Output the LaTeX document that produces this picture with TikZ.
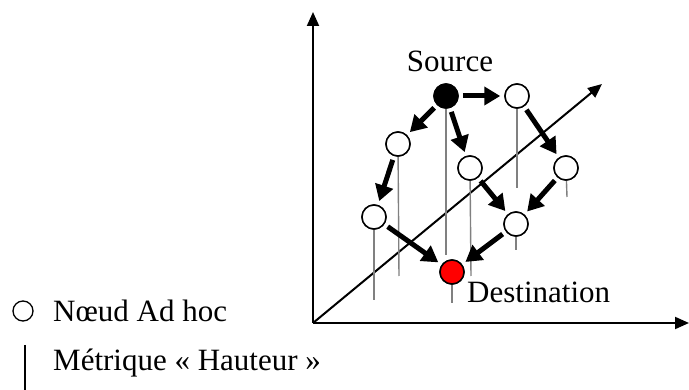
\documentclass[tikz,border=0pt]{standalone}
\usepackage{fontspec}
\setmainfont{Liberation Serif}
\usetikzlibrary{arrows.meta}
\begin{document}
\begin{tikzpicture}[x=1pt,y=-1pt,
  every node/.style={font=\fontsize{31}{37}\selectfont},
  adhoc/.style={circle,draw,line width=1.5pt,fill=white,minimum size=24pt,inner sep=0pt},
  axis/.style={line width=2pt,-{Triangle[length=14pt,width=12pt]}},
  hop/.style={line width=5pt,-{Triangle[length=16pt,width=18pt]},shorten <=4pt,shorten >=4pt},
  height/.style={draw=black!50,line width=1.4pt},
  lbl/.style={anchor=base west,inner sep=0pt}]
\useasboundingbox (0,0) rectangle (689,390);
% axes
\coordinate (O) at (313,323);
\coordinate (Y) at (313,12);
\coordinate (X) at (689,323);
\coordinate (Z) at (602,84);
\draw[axis] (O) -- (Y);
\draw[axis] (O) -- (X);
\draw[axis] (O) -- (Z);
% nodes
\node[adhoc,fill=black] (s) at (446,96) {};
\node[adhoc] (n1) at (517,96) {};
\node[adhoc] (n2) at (398,144) {};
\node[adhoc] (n3) at (470,168) {};
\node[adhoc] (n4) at (566,168) {};
\node[adhoc] (n5) at (374,217) {};
\node[adhoc] (n6) at (516,224) {};
\node[adhoc,fill=red] (d) at (452,272) {};
% height lines
\coordinate (hs) at (446,255);
\coordinate (h1) at (517,188);
\coordinate (h2) at (399,276);
\coordinate (h3) at (471,276);
\coordinate (h4) at (567,197);
\coordinate (h5) at (374,300);
\coordinate (h6) at (516,250);
\coordinate (hd) at (452,303);
\draw[height] (s) -- (hs);
\draw[height] (n1) -- (h1);
\draw[height] (n2) -- (h2);
\draw[height] (n3) -- (h3);
\draw[height] (n4) -- (h4);
\draw[height] (n5) -- (h5);
\draw[height] (n6) -- (h6);
\draw[height] (d) -- (hd);
% redraw nodes above lines
\node[adhoc,fill=black] at (s) {};
\node[adhoc] at (n1) {};
\node[adhoc] at (n2) {};
\node[adhoc] at (n3) {};
\node[adhoc] at (n4) {};
\node[adhoc] at (n5) {};
\node[adhoc] at (n6) {};
\node[adhoc,fill=red] at (d) {};
% hops
\draw[hop] (s) -- (n1);
\draw[hop] (s) -- (n2);
\draw[hop] (s) -- (n3);
\draw[hop] (n1) -- (n4);
\draw[hop] (n2) -- (n5);
\draw[hop] (n3) -- (n6);
\draw[hop] (n4) -- (n6);
\draw[hop] (n5) -- (d);
\draw[hop] (n6) -- (d);
% labels
\node[anchor=base,inner sep=0pt] (src) at (450,72) {Source};
\node[lbl] (dst) at (467,303) {Destination};
% legend
\node[circle,draw,line width=1.3pt,minimum size=20pt,inner sep=0pt] (lc) at (23,311) {};
\node[lbl] (l1) at (53,322) {Nœud Ad hoc};
\coordinate (lt) at (25,345);
\coordinate (lb) at (25,390);
\draw[line width=1.6pt] (lt) -- (lb);
\node[lbl] (l2) at (53,371) {Métrique « Hauteur »};
\end{tikzpicture}
\end{document}
